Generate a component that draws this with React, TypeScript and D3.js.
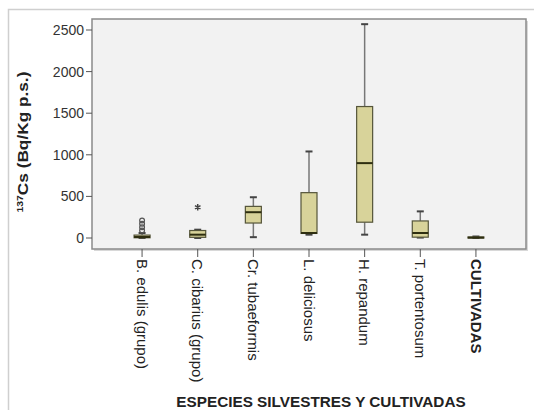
import React from "react";
import * as d3 from "d3";

// categories (x axis)
const species = [
  "B. edulis (grupo)",
  "C. cibarius (grupo)",
  "Cr. tubaeformis",
  "L. deliciosus",
  "H. repandum",
  "T. portentosum",
  "CULTIVADAS",
];

// box statistics (Bq/Kg p.s.)
const mins = [0, 0, 10, 40, 40, 5, 0];
const q1s = [3, 8, 180, 55, 190, 10, 0];
const medians = [12, 40, 310, 60, 900, 60, 5];
const q3s = [35, 90, 380, 545, 1580, 205, 12];
const maxs = [60, 100, 490, 1040, 2570, 320, 18];
// circles = outliers, stars = extreme values
const outliers = [[90, 130, 170, 210], [], [], [], [], [], []];
const extremes = [[], [370], [], [], [], [], []];

const yTicks = [0, 500, 1000, 1500, 2000, 2500];

const width = 534;
const height = 410;
const plot = { left: 92, right: 526, top: 19, bottom: 249 };

const App = () => {
  const x = d3
    .scalePoint<string>()
    .domain(species)
    .range([plot.left, plot.right])
    .padding(0.9);

  const y = d3.scaleLinear().domain([0, 2500]).range([238, 30]);

  const boxW = 16;
  const capW = 7;
  const star = d3.symbol().type(d3.symbolAsterisk).size(28)();

  return (
    <svg
      width={width}
      height={height}
      style={{ position: "absolute", left: 0, top: 0, display: "block" }}
      fontFamily="Arial, Liberation Sans, sans-serif"
    >
      <rect x={0} y={0} width={width} height={height} fill="#fff" />
      {/* outer frame */}
      <rect
        x={8.5}
        y={9.5}
        width={560}
        height={430}
        fill="none"
        stroke="#cfcfcf"
        strokeWidth={1.5}
      />

      {/* plot area */}
      <rect
        x={plot.left + 2}
        y={plot.top + 2}
        width={plot.right - plot.left}
        height={plot.bottom - plot.top}
        fill="#d8d8d8"
      />
      <rect
        x={plot.left}
        y={plot.top}
        width={plot.right - plot.left}
        height={plot.bottom - plot.top}
        fill="#f2f2f2"
        stroke="#8a8a8a"
        strokeWidth={1.5}
      />

      {/* y axis ticks */}
      {yTicks.map((t) => (
        <g key={t}>
          <line
            x1={plot.left - 6}
            x2={plot.left}
            y1={y(t)}
            y2={y(t)}
            stroke="#555"
          />
          <text
            x={plot.left - 8}
            y={y(t)}
            dy="0.35em"
            textAnchor="end"
            fontSize={14}
            fill="#333"
          >
            {t}
          </text>
        </g>
      ))}

      {/* x axis ticks and labels */}
      {species.map((s) => (
        <g key={s}>
          <line
            x1={x(s)}
            x2={x(s)}
            y1={plot.bottom}
            y2={plot.bottom + 8}
            stroke="#555"
          />
          <text
            transform={`translate(${x(s)},${plot.bottom + 10}) rotate(90)`}
            dy="0.35em"
            fontSize={15}
            fontWeight={s === "CULTIVADAS" ? "bold" : "normal"}
            fill="#222"
          >
            {s}
          </text>
        </g>
      ))}

      {/* boxes */}
      {species.map((s, i) => {
        const cx = x(s) as number;
        return (
          <g key={s}>
            <line x1={cx} x2={cx} y1={y(maxs[i])} y2={y(q3s[i])} stroke="#777" strokeWidth={1.5} />
            <line x1={cx} x2={cx} y1={y(q1s[i])} y2={y(mins[i])} stroke="#777" strokeWidth={1.5} />
            <line x1={cx - capW / 2} x2={cx + capW / 2} y1={y(maxs[i])} y2={y(maxs[i])} stroke="#444" strokeWidth={2} />
            <line x1={cx - capW / 2} x2={cx + capW / 2} y1={y(mins[i])} y2={y(mins[i])} stroke="#444" strokeWidth={2} />
            <rect
              x={cx - boxW / 2}
              y={y(q3s[i])}
              width={boxW}
              height={Math.max(1, y(q1s[i]) - y(q3s[i]))}
              fill="#d8d39a"
              stroke="#55553a"
              strokeWidth={1.2}
            />
            <line
              x1={cx - boxW / 2}
              x2={cx + boxW / 2}
              y1={y(medians[i])}
              y2={y(medians[i])}
              stroke="#2e2e10"
              strokeWidth={2}
            />
            {outliers[i].map((v, j) => (
              <circle key={j} cx={cx} cy={y(v)} r={2.4} fill="none" stroke="#555" strokeWidth={1.2} />
            ))}
            {extremes[i].map((v, j) => (
              <path key={j} d={star as string} transform={`translate(${cx},${y(v)})`} stroke="#444" strokeWidth={1.5} fill="none" />
            ))}
          </g>
        );
      })}

      {/* axis titles */}
      <text
        transform="translate(28,142) rotate(-90) scale(1.15,1)"
        dy="0.35em"
        textAnchor="middle"
        fontSize={15}
        fontWeight="bold"
        fill="#222"
      >
        <tspan fontSize={9} dy="-0.6em">137</tspan>
        <tspan dy="0.35em">Cs (Bq/Kg p.s.)</tspan>
      </text>
      <text
        x={321}
        y={407}
        textAnchor="middle"
        fontSize={15.3}
        fontWeight="bold"
        fill="#222"
      >
        ESPECIES SILVESTRES Y CULTIVADAS
      </text>
    </svg>
  );
};

export default App;
